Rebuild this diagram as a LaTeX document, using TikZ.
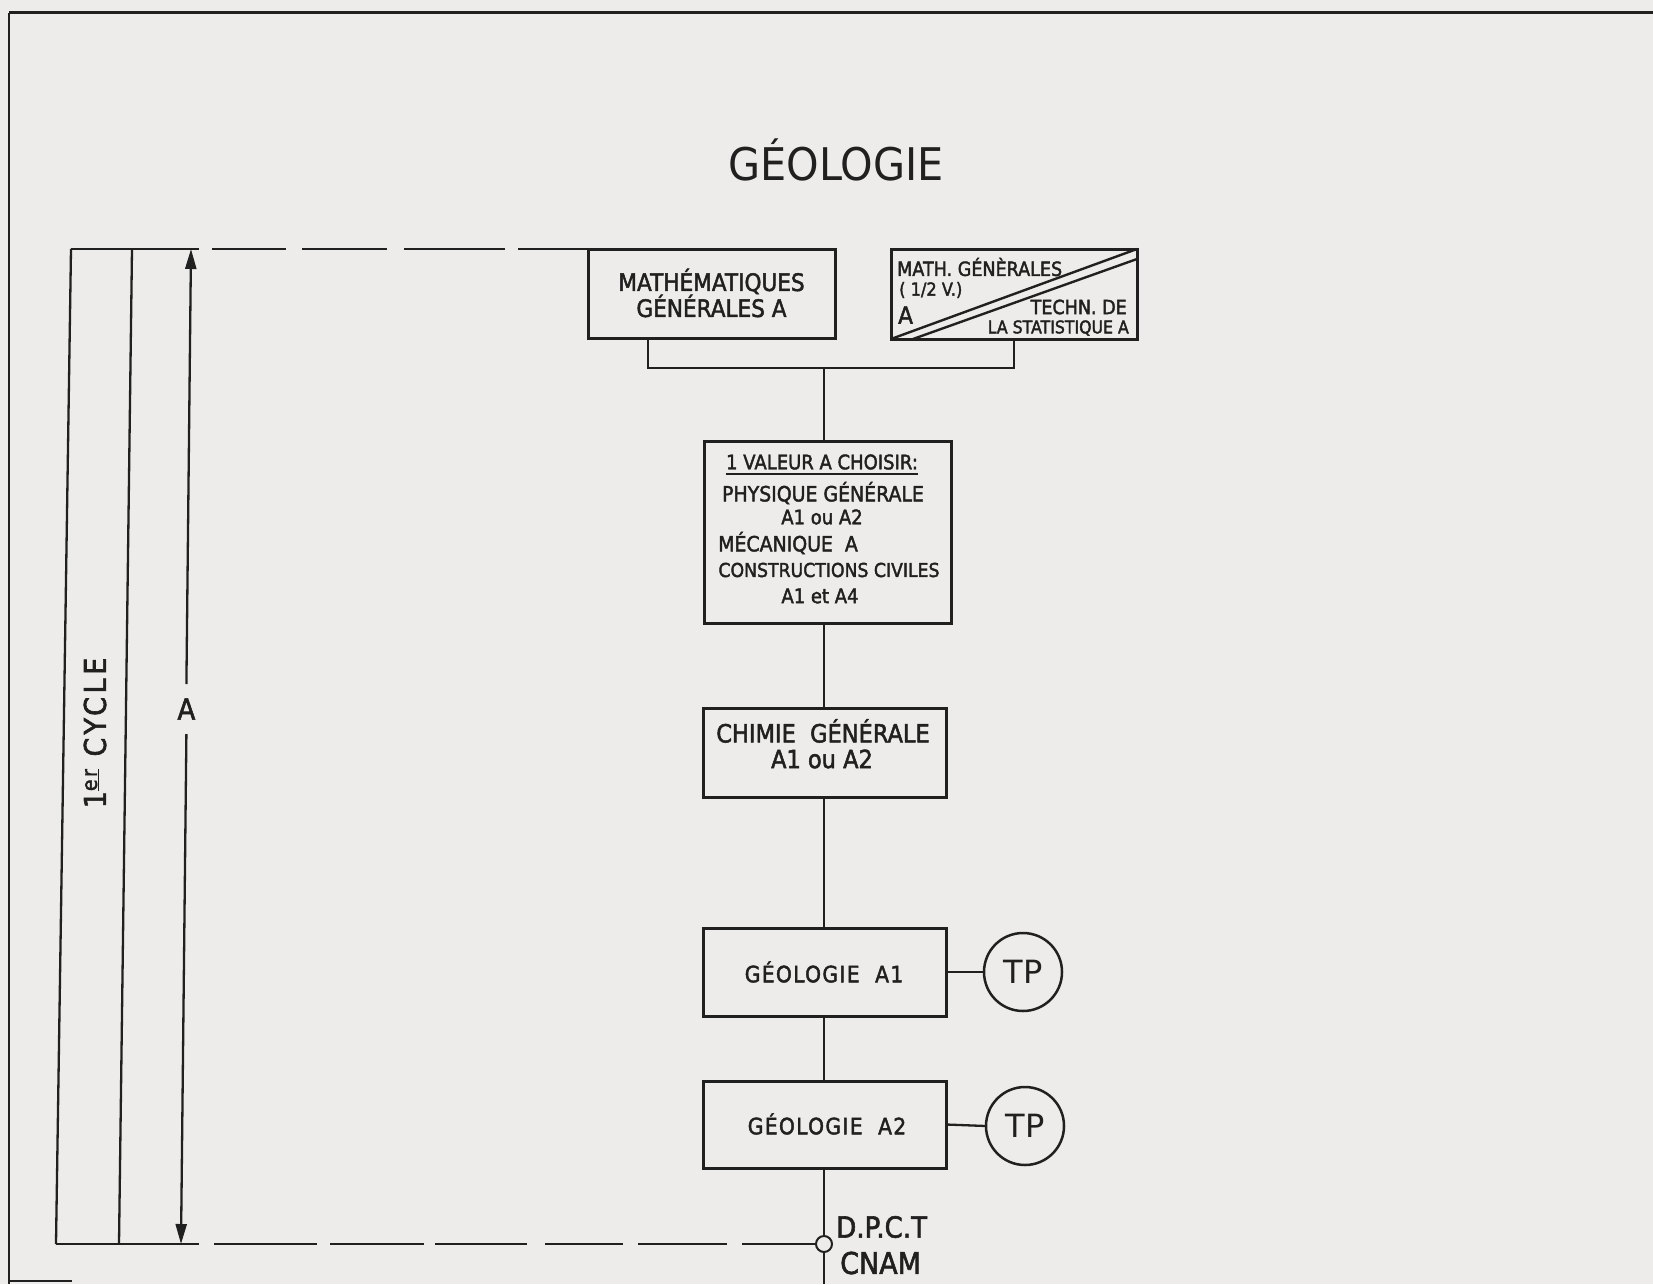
\documentclass[tikz,border=0pt]{standalone}
\usepackage{fontspec}
\setmainfont{DejaVu Sans}
\newfontfamily\lett{DejaVu Sans}[FakeStretch=0.9,FakeBold=2]
\newfontfamily\lettwide{DejaVu Sans}[FakeStretch=0.9,FakeBold=2,LetterSpace=6]
\newfontfamily\lettcyc{DejaVu Sans}[FakeStretch=0.9,FakeBold=2,LetterSpace=12]
\newfontfamily\ttl{DejaVu Sans}[FakeStretch=0.92]
\usetikzlibrary{arrows.meta}
\definecolor{bg}{RGB}{237,236,234}
\definecolor{ink}{RGB}{32,32,32}
\begin{document}
\begin{tikzpicture}[x=1pt,y=-1pt,
  box/.style={draw=ink, line width=3pt, inner sep=0pt, outer sep=0pt},
  conn/.style={draw=ink, line width=2.3pt},
  lbl/.style={text=ink, inner sep=0pt},
  tpc/.style={circle, draw=ink, line width=2.5pt, minimum size=78pt, inner sep=0pt, outer sep=0pt,
              font=\fontsize{32}{32}\selectfont, text=ink, fill=bg},
  dimarrow/.style={draw=ink, line width=2.3pt, -{Triangle[length=20pt,width=11pt]}},
]
\fill[bg] (0,0) rectangle (1653,1284);
\useasboundingbox (0,0) rectangle (1653,1284);

% page frame
\draw[ink, line width=3pt] (9,13) -- (1653,13);
\draw[ink, line width=2pt] (9,13) -- (9,1284);
\draw[ink, line width=2pt] (9,1281) -- (72,1281);

% title
\node[lbl, font=\ttl\fontsize{45}{45}\selectfont] (title) at (836,160) {GÉOLOGIE};

% left band
\coordinate (otop) at (71,249);
\coordinate (obot) at (56,1244);
\coordinate (itop) at (132,249);
\coordinate (ibot) at (119,1244);
\draw[conn] (otop) -- (obot);
\draw[conn] (itop) -- (ibot);
\node[lbl, rotate=90, font=\lettcyc\fontsize{30}{30}\selectfont] (cycle) at (95,733)
  {1\textsuperscript{\underline{er}} CYCLE};

% dimension arrow
\node[lbl, font=\lett\fontsize{29}{29}\selectfont] (dimA) at (186.4,709) {A};
\coordinate (atop) at (191,249);
\coordinate (abot) at (181,1244);
\draw[dimarrow] (dimA.north |- 0,684) -- (atop);
\draw[dimarrow] (dimA.south |- 0,734) -- (abot);

% boxes
\node[box, minimum width=247pt, minimum height=89pt] (m1) at (711.5,293.5) {};
\node[lbl, align=center, font=\lett\fontsize{24}{26}\selectfont] (m1t) at (711.5,293) {MATHÉMATIQUES\\GÉNÉRALES A};

\node[box, minimum width=246pt, minimum height=90pt] (m2) at (1014,294) {};
\draw[ink, line width=2.4pt] (m2.south west) -- (m2.north east);
\draw[ink, line width=2.4pt] ([xshift=22pt]m2.south west) -- ([yshift=-10pt]m2.north east);
\node[lbl, anchor=west, font=\lett\fontsize{19.5}{20}\selectfont] (m2a) at (897,267) {MATH. GÉNÈRALES};
\node[lbl, anchor=west, font=\lett\fontsize{18}{18}\selectfont] (m2b) at (899,290) {( 1/2 V.)};
\node[lbl, anchor=west, font=\lett\fontsize{24}{24}\selectfont] (m2c) at (898,315) {A};
\node[lbl, anchor=east, font=\lett\fontsize{19.5}{20}\selectfont] (m2d) at (1127,307) {TECHN. DE};
\node[lbl, anchor=east, font=\lett\fontsize{17.5}{18}\selectfont] (m2e) at (1129,328) {LA STATISTIQUE A};

\node[box, minimum width=247pt, minimum height=182pt] (v1) at (827.5,532) {};
\node[lbl, font=\lett\fontsize{20}{20}\selectfont] (t31) at (822,462) {1 VALEUR A CHOISIR:};
\draw[ink, line width=2pt] ([yshift=-4pt]t31.south west) -- ([yshift=-4pt]t31.south east);
\node[lbl, font=\lett\fontsize{21}{21}\selectfont] (t32) at (823,493) {PHYSIQUE GÉNÉRALE};
\node[lbl, font=\lett\fontsize{20}{20}\selectfont] (t33) at (822,517) {A1 ou A2};
\node[lbl, anchor=west, font=\lett\fontsize{21}{21}\selectfont] (t34) at (718,543) {MÉCANIQUE\ \ A};
\node[lbl, font=\lett\fontsize{19.2}{20}\selectfont] (t35) at (829,570) {CONSTRUCTIONS CIVILES};
\node[lbl, font=\lett\fontsize{20}{20}\selectfont] (t36) at (820,596) {A1 et A4};

\node[box, minimum width=243pt, minimum height=89pt] (ch) at (824.5,752.5) {};
\node[lbl, font=\lett\fontsize{25}{25}\selectfont] (cht1) at (823,731) {CHIMIE\ \ GÉNÉRALE};
\node[lbl, font=\lett\fontsize{25}{25}\selectfont] (cht2) at (822,759) {A1 ou A2};

\node[box, minimum width=243pt, minimum height=88pt] (g1) at (824.5,972) {};
\node[lbl, font=\lettwide\fontsize{22.5}{22}\selectfont] (g1t) at (824,972) {GÉOLOGIE\ \ A1};
\node[box, minimum width=243pt, minimum height=87pt] (g2) at (824.5,1124.5) {};
\node[lbl, font=\lettwide\fontsize{22.5}{22}\selectfont] (g2t) at (827,1124) {GÉOLOGIE\ \ A2};

\node[tpc] (tp1) at (1023,972) {TP};
\node[tpc] (tp2) at (1025,1126) {TP};

% connectors
\coordinate (bl) at (648,368);
\coordinate (br) at (1014,368);
\coordinate (bm) at (824,368);
\draw[conn] (m1.south -| bl) -- (bl) -- (br) -- (m2.south);
\draw[conn] (bm) -- (bm |- v1.north);
\draw[conn] (v1.south -| bm) -- (ch.north -| bm);
\draw[conn] (ch.south -| bm) -- (g1.north -| bm);
\draw[conn] (g1.south -| bm) -- (g2.north -| bm);
\draw[conn] (g1.east) -- (tp1.west);
\draw[conn] (g2.east) -- (tp2.west);

% exit node
\node[circle, draw=ink, line width=2pt, minimum size=16pt, inner sep=0pt, outer sep=0pt, fill=bg] (exit) at (824,1244) {};
\coordinate (bottom) at (824,1284);
\draw[conn] (g2.south -| bm) -- (exit.north);
\draw[conn] (exit.south) -- (bottom);
\node[lbl, anchor=west, font=\lett\fontsize{29}{29}\selectfont] (dpct) at (836,1227) {D.P.C.T};
\node[lbl, anchor=west, font=\lett\fontsize{30}{30}\selectfont] (cnam) at (840,1263) {CNAM};

% top limit line
\draw[conn] (otop) -- (199,249);
\draw[conn, dash pattern=on 0pt off 13pt on 74pt off 16pt on 85pt off 17pt on 101pt off 13pt on 0pt off 100pt] (199,249) -- (518,249);
\draw[conn] (518,249) -- (m1.north west);

% bottom limit line
\draw[conn] (obot) -- (199,1244);
\draw[conn, dash pattern=on 0pt off 15pt on 103pt off 13pt on 94pt off 11pt on 92pt off 18pt on 78pt off 15pt on 89pt off 15pt on 100pt off 100pt] (199,1244) -- (exit.west);
\end{tikzpicture}
\end{document}
